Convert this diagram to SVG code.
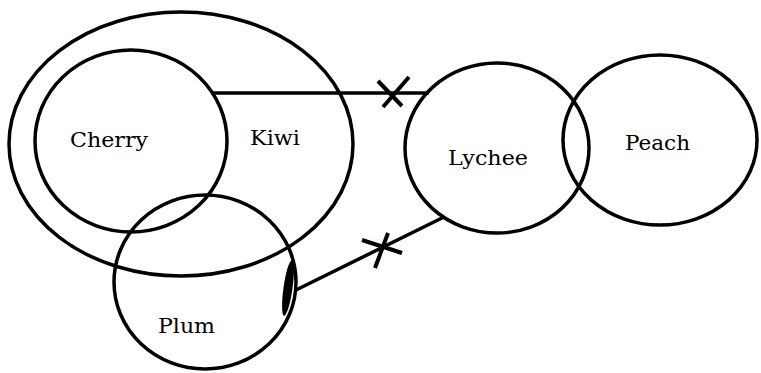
<svg xmlns="http://www.w3.org/2000/svg" width="761" height="373" viewBox="0 0 761 373">
<style>
.shape{fill:none;stroke:#000;stroke-width:3.5}
.lbl{font-family:"DejaVu Serif","Liberation Serif",serif;font-size:21px;fill:#000}
.edge{fill:none;stroke:#000;stroke-width:3.5}
.mark{fill:none;stroke:#000;stroke-width:4}
</style>
<rect width="761" height="373" fill="#fff"/>
<g id="kiwi"><ellipse class="shape" cx="181" cy="144" rx="172" ry="132"/><text class="lbl" x="250" y="145" textLength="50" lengthAdjust="spacingAndGlyphs">Kiwi</text></g>
<g id="cherry"><ellipse class="shape" cx="131" cy="141" rx="96" ry="91"/><text class="lbl" x="70" y="147" textLength="78" lengthAdjust="spacingAndGlyphs">Cherry</text></g>
<g id="plum"><ellipse class="shape" cx="205" cy="282" rx="91" ry="87"/><text class="lbl" x="158" y="333" textLength="57" lengthAdjust="spacingAndGlyphs">Plum</text></g>
<g id="lychee"><ellipse class="shape" cx="497" cy="148" rx="92" ry="85"/><text class="lbl" x="448" y="165" textLength="80" lengthAdjust="spacingAndGlyphs">Lychee</text></g>
<g id="peach"><ellipse class="shape" cx="660" cy="140" rx="97" ry="85"/><text class="lbl" x="625" y="150" textLength="65" lengthAdjust="spacingAndGlyphs">Peach</text></g>
<g id="connectors">
<line class="edge" x1="212" y1="93" x2="429" y2="93"/>
<line class="mark" x1="378" y1="81" x2="402" y2="106"/>
<line class="mark" x1="409" y1="77" x2="383" y2="107"/>
<line class="edge" x1="296" y1="290" x2="444" y2="217"/>
<line class="mark" x1="362" y1="240" x2="402" y2="253"/>
<line class="mark" x1="388" y1="233" x2="375" y2="268"/>
<ellipse cx="288" cy="288" rx="4.5" ry="28" transform="rotate(8 288 288)" fill="#000"/>
</g>
</svg>
